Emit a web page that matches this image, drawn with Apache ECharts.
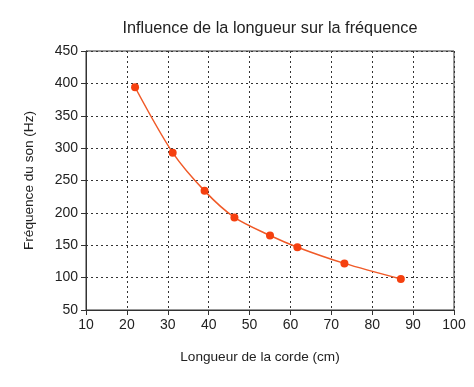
<!DOCTYPE html>
<html><head><meta charset="utf-8">
<script src="https://cdn.jsdelivr.net/npm/echarts@6/dist/echarts.min.js"></script>
<style>html,body{margin:0;padding:0;background:#fff}#c{width:474px;height:387px}</style>
</head><body><div id="c"></div>
<script>
const longueurs = [22, 31.2, 39, 46.3, 55, 61.7, 73.2, 87];
const frequences = [394, 293, 234, 193, 165, 147, 122, 98];
const titre = 'Influence de la longueur sur la fréquence';
const nomX = 'Longueur de la corde (cm)';
const nomY = 'Fréquence du son (Hz)';

const chart = echarts.init(document.getElementById('c'), null, {renderer: 'canvas'});
const font = 'Liberation Sans';
chart.setOption({
  animation: false,
  backgroundColor: '#fff',
  title: {text: titre, left: 265, top: 16, textAlign: 'center',
    textStyle: {fontFamily: font, fontSize: 16.3, fontWeight: 'normal', color: '#222'}},
  grid: {left: 86, right: 20, top: 51, bottom: 77, show: true, borderColor: '#333', borderWidth: 1, backgroundColor: 'transparent'},
  xAxis: {type: 'value', min: 10, max: 100, interval: 10,
    name: nomX, nameLocation: 'middle', nameGap: 40,
    nameTextStyle: {fontFamily: font, fontSize: 13.6, color: '#222', padding: [0, 20, 0, 0]},
    axisLine: {lineStyle: {color: '#333'}},
    axisTick: {show: true, length: 5, lineStyle: {color: '#333'}},
    axisLabel: {fontFamily: font, fontSize: 14, color: '#222', margin: 8},
    splitLine: {show: true, lineStyle: {color: '#333', type: [2, 3], width: 1}}},
  yAxis: {type: 'value', min: 50, max: 450, interval: 50,
    name: nomY, nameLocation: 'middle', nameGap: 50,
    nameTextStyle: {fontFamily: font, fontSize: 13.6, color: '#222', padding: [0, 0, 0, 0]},
    axisLine: {show: true, lineStyle: {color: '#333'}},
    axisTick: {show: true, length: 5, lineStyle: {color: '#333'}},
    axisLabel: {fontFamily: font, fontSize: 14, color: '#222', margin: 8},
    splitLine: {show: true, lineStyle: {color: '#333', type: [2, 3], width: 1}}},
  series: [{type: 'line', data: longueurs.map((x, i) => [x, frequences[i]]),
    smooth: 0.3, symbol: 'circle', symbolSize: 8,
    lineStyle: {color: '#f05a28', width: 1.5},
    itemStyle: {color: '#f5400f'}}]
});
</script></body></html>
